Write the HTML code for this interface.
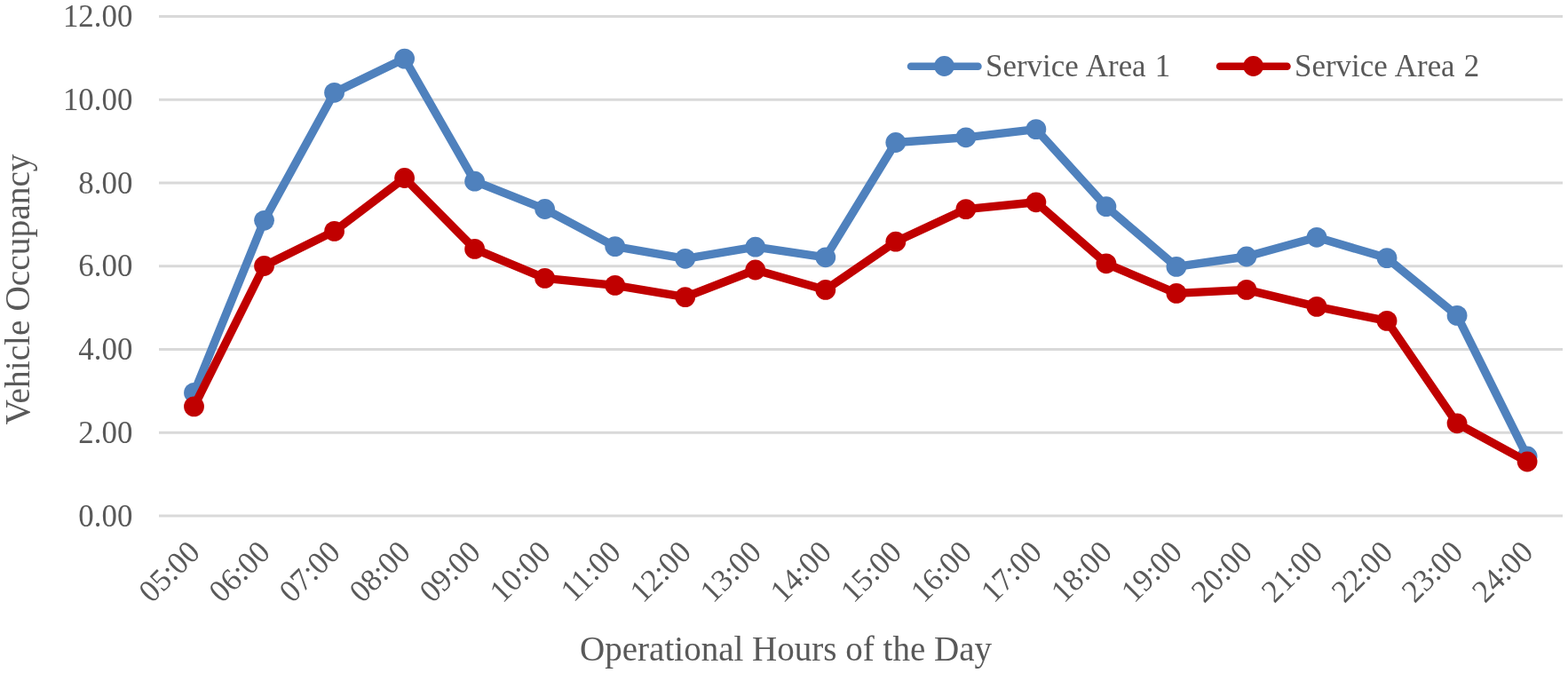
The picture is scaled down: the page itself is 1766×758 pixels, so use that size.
<!DOCTYPE html>
<html lang="en">
<head>
<meta charset="utf-8">
<title>Vehicle Occupancy by Operational Hours of the Day</title>
<style>
html,body{margin:0;padding:0;background:#fff;}
body{width:1766px;height:758px;overflow:hidden;}
svg{display:block;}
text{font-family:"Liberation Serif","DejaVu Serif",serif;fill:#595959;}
</style>
</head>
<body>
<svg role="img" aria-label="Line chart of vehicle occupancy by operational hour for two service areas" width="1766" height="758" viewBox="0 0 1766 758">
<rect x="0" y="0" width="1766" height="758" fill="#ffffff"/>
<g stroke="#D9D9D9" stroke-width="3" fill="none">
<line x1="179.00" y1="18.50" x2="1760.00" y2="18.50"/>
<line x1="179.00" y1="112.25" x2="1760.00" y2="112.25"/>
<line x1="179.00" y1="206.00" x2="1760.00" y2="206.00"/>
<line x1="179.00" y1="299.75" x2="1760.00" y2="299.75"/>
<line x1="179.00" y1="393.50" x2="1760.00" y2="393.50"/>
<line x1="179.00" y1="487.25" x2="1760.00" y2="487.25"/>
<line x1="179.00" y1="581.00" x2="1760.00" y2="581.00"/>
</g>
<g font-size="34.90" text-anchor="end">
<text transform="translate(149.4 30.20) scale(1 1.022)">12.00</text>
<text transform="translate(149.4 123.95) scale(1 1.022)">10.00</text>
<text transform="translate(149.4 217.70) scale(1 1.022)">8.00</text>
<text transform="translate(149.4 311.45) scale(1 1.022)">6.00</text>
<text transform="translate(149.4 405.20) scale(1 1.022)">4.00</text>
<text transform="translate(149.4 498.95) scale(1 1.022)">2.00</text>
<text transform="translate(149.4 592.70) scale(1 1.022)">0.00</text>
</g>
<g font-size="34.90" text-anchor="end">
<text transform="translate(227.01 624.00) rotate(-45) scale(1 1.022)">05:00</text>
<text transform="translate(306.05 624.00) rotate(-45) scale(1 1.022)">06:00</text>
<text transform="translate(385.07 624.00) rotate(-45) scale(1 1.022)">07:00</text>
<text transform="translate(464.11 624.00) rotate(-45) scale(1 1.022)">08:00</text>
<text transform="translate(543.13 624.00) rotate(-45) scale(1 1.022)">09:00</text>
<text transform="translate(622.16 624.00) rotate(-45) scale(1 1.022)">10:00</text>
<text transform="translate(701.20 624.00) rotate(-45) scale(1 1.022)">11:00</text>
<text transform="translate(780.23 624.00) rotate(-45) scale(1 1.022)">12:00</text>
<text transform="translate(859.25 624.00) rotate(-45) scale(1 1.022)">13:00</text>
<text transform="translate(938.28 624.00) rotate(-45) scale(1 1.022)">14:00</text>
<text transform="translate(1017.32 624.00) rotate(-45) scale(1 1.022)">15:00</text>
<text transform="translate(1096.35 624.00) rotate(-45) scale(1 1.022)">16:00</text>
<text transform="translate(1175.38 624.00) rotate(-45) scale(1 1.022)">17:00</text>
<text transform="translate(1254.40 624.00) rotate(-45) scale(1 1.022)">18:00</text>
<text transform="translate(1333.43 624.00) rotate(-45) scale(1 1.022)">19:00</text>
<text transform="translate(1412.46 624.00) rotate(-45) scale(1 1.022)">20:00</text>
<text transform="translate(1491.50 624.00) rotate(-45) scale(1 1.022)">21:00</text>
<text transform="translate(1570.53 624.00) rotate(-45) scale(1 1.022)">22:00</text>
<text transform="translate(1649.56 624.00) rotate(-45) scale(1 1.022)">23:00</text>
<text transform="translate(1728.59 624.00) rotate(-45) scale(1 1.022)">24:00</text>
</g>
<text font-size="39.05" text-anchor="middle" x="885.1" y="743.7">Operational Hours of the Day</text>
<text font-size="39.4" text-anchor="middle" transform="translate(33.1 326) rotate(-90)">Vehicle Occupancy</text>
<g>
<polyline points="218.51,442.40 297.55,248.30 376.57,104.30 455.61,66.10 534.63,204.20 613.66,235.50 692.70,277.60 771.73,291.30 850.75,278.20 929.78,289.80 1008.82,160.50 1087.85,154.80 1166.88,145.60 1245.90,232.70 1324.93,300.40 1403.96,289.00 1483.00,267.30 1562.03,290.60 1641.06,355.40 1720.09,514.00" fill="none" stroke="#4F81BD" stroke-width="9.4" stroke-linejoin="round" stroke-linecap="round"/>
<circle cx="218.51" cy="442.40" r="11.4" fill="#4F81BD"/>
<circle cx="297.55" cy="248.30" r="11.4" fill="#4F81BD"/>
<circle cx="376.57" cy="104.30" r="11.4" fill="#4F81BD"/>
<circle cx="455.61" cy="66.10" r="11.4" fill="#4F81BD"/>
<circle cx="534.63" cy="204.20" r="11.4" fill="#4F81BD"/>
<circle cx="613.66" cy="235.50" r="11.4" fill="#4F81BD"/>
<circle cx="692.70" cy="277.60" r="11.4" fill="#4F81BD"/>
<circle cx="771.73" cy="291.30" r="11.4" fill="#4F81BD"/>
<circle cx="850.75" cy="278.20" r="11.4" fill="#4F81BD"/>
<circle cx="929.78" cy="289.80" r="11.4" fill="#4F81BD"/>
<circle cx="1008.82" cy="160.50" r="11.4" fill="#4F81BD"/>
<circle cx="1087.85" cy="154.80" r="11.4" fill="#4F81BD"/>
<circle cx="1166.88" cy="145.60" r="11.4" fill="#4F81BD"/>
<circle cx="1245.90" cy="232.70" r="11.4" fill="#4F81BD"/>
<circle cx="1324.93" cy="300.40" r="11.4" fill="#4F81BD"/>
<circle cx="1403.96" cy="289.00" r="11.4" fill="#4F81BD"/>
<circle cx="1483.00" cy="267.30" r="11.4" fill="#4F81BD"/>
<circle cx="1562.03" cy="290.60" r="11.4" fill="#4F81BD"/>
<circle cx="1641.06" cy="355.40" r="11.4" fill="#4F81BD"/>
<circle cx="1720.09" cy="514.00" r="11.4" fill="#4F81BD"/>
</g>
<g>
<polyline points="218.51,457.90 297.55,299.50 376.57,260.40 455.61,200.50 534.63,280.40 613.66,313.40 692.70,321.40 771.73,334.60 850.75,304.00 929.78,326.40 1008.82,272.20 1087.85,235.60 1166.88,227.80 1245.90,296.80 1324.93,330.40 1403.96,326.40 1483.00,345.40 1562.03,361.40 1641.06,476.80 1720.09,520.00" fill="none" stroke="#C00000" stroke-width="9.4" stroke-linejoin="round" stroke-linecap="round"/>
<circle cx="218.51" cy="457.90" r="11.4" fill="#C00000"/>
<circle cx="297.55" cy="299.50" r="11.4" fill="#C00000"/>
<circle cx="376.57" cy="260.40" r="11.4" fill="#C00000"/>
<circle cx="455.61" cy="200.50" r="11.4" fill="#C00000"/>
<circle cx="534.63" cy="280.40" r="11.4" fill="#C00000"/>
<circle cx="613.66" cy="313.40" r="11.4" fill="#C00000"/>
<circle cx="692.70" cy="321.40" r="11.4" fill="#C00000"/>
<circle cx="771.73" cy="334.60" r="11.4" fill="#C00000"/>
<circle cx="850.75" cy="304.00" r="11.4" fill="#C00000"/>
<circle cx="929.78" cy="326.40" r="11.4" fill="#C00000"/>
<circle cx="1008.82" cy="272.20" r="11.4" fill="#C00000"/>
<circle cx="1087.85" cy="235.60" r="11.4" fill="#C00000"/>
<circle cx="1166.88" cy="227.80" r="11.4" fill="#C00000"/>
<circle cx="1245.90" cy="296.80" r="11.4" fill="#C00000"/>
<circle cx="1324.93" cy="330.40" r="11.4" fill="#C00000"/>
<circle cx="1403.96" cy="326.40" r="11.4" fill="#C00000"/>
<circle cx="1483.00" cy="345.40" r="11.4" fill="#C00000"/>
<circle cx="1562.03" cy="361.40" r="11.4" fill="#C00000"/>
<circle cx="1641.06" cy="476.80" r="11.4" fill="#C00000"/>
<circle cx="1720.09" cy="520.00" r="11.4" fill="#C00000"/>
</g>
<g>
<line x1="1026.0" y1="74.7" x2="1101.5" y2="74.7" stroke="#4F81BD" stroke-width="8.5" stroke-linecap="round"/>
<circle cx="1063.5" cy="74.5" r="11.4" fill="#4F81BD"/>
<text font-size="34.90" x="1110.0" y="85.5" style="word-spacing:1.4px">Service Area 1</text>
</g>
<g>
<line x1="1374.0" y1="74.7" x2="1449.5" y2="74.7" stroke="#C00000" stroke-width="8.5" stroke-linecap="round"/>
<circle cx="1411.6" cy="74.5" r="11.4" fill="#C00000"/>
<text font-size="34.90" x="1458.0" y="85.5" style="word-spacing:1.4px">Service Area 2</text>
</g>
</svg>
</body>
</html>
